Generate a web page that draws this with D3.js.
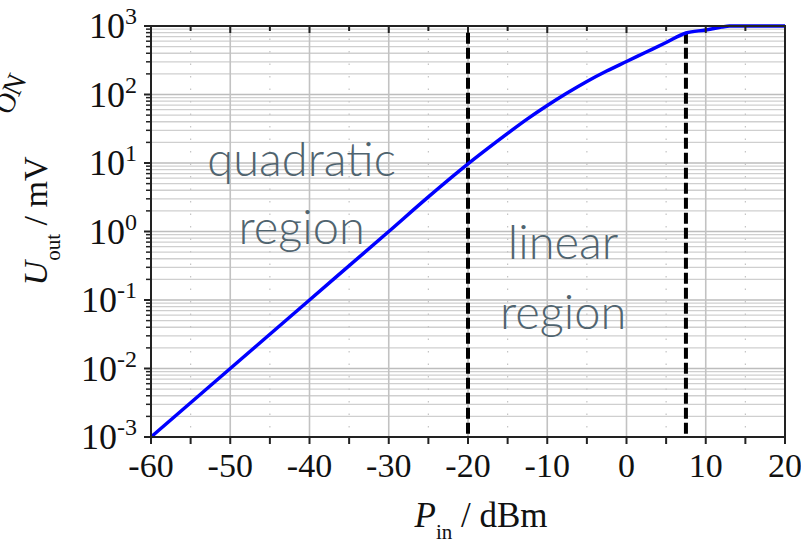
<!DOCTYPE html>
<html>
<head>
<meta charset="utf-8">
<script src="https://cdn.jsdelivr.net/npm/d3@7"></script>
<style>
  body { margin: 0; background: #fff; }
  svg { display: block; }
  .tick-label { font-family: "Liberation Serif", "Times New Roman", serif; fill: #111; }
  .region { font-family: Lato, "Open Sans", sans-serif; font-weight: 300; fill: #50646f; }
</style>
</head>
<body>
<svg width="801" height="548"></svg>
<script>
// input power in dBm and output voltage in mV
const pin = [-60, -50, -40, -30, -25, -20, -17.5, -15, -12.5, -10, -7.5, -5, -2.5, 0, 2.5, 5, 7.5, 10, 12, 13, 20];
const uout = [0.001, 0.01, 0.1, 1, 3.2, 9.7, 16.3, 27, 44, 69, 105, 155, 220, 303, 417, 574, 791, 875, 965, 1000, 1000];

const xTicks = [-60, -50, -40, -30, -20, -10, 0, 10, 20];
const xMinor = [-55, -45, -35, -25, -15, -5, 5, 15];
const yExps = [-3, -2, -1, 0, 1, 2, 3];
const regionBounds = [-20, 7.5];

const svg = d3.select('svg');
const mLeft = 151, mRight = 785, mTop = 26, mBottom = 437;

const xScale = d3.scaleLinear().domain([-60, 20]).range([mLeft, mRight]);
const yScale = d3.scaleLog().domain([1e-3, 1e3]).range([mBottom, mTop]);

// minor decade values 2..9
let yMinor = [];
yExps.slice(0, -1).forEach(e => {
  for (let k = 2; k <= 9; k++) yMinor.push(k * Math.pow(10, e));
});

const grid = svg.append('g');
grid.selectAll('.hminor').data(yMinor).enter().append('line')
  .attr('x1', mLeft).attr('x2', mRight)
  .attr('y1', d => yScale(d)).attr('y2', d => yScale(d))
  .attr('stroke', '#cfcfcf').attr('stroke-width', 1.3);
grid.selectAll('.hmajor').data(yExps).enter().append('line')
  .attr('x1', mLeft).attr('x2', mRight)
  .attr('y1', d => yScale(Math.pow(10, d))).attr('y2', d => yScale(Math.pow(10, d)))
  .attr('stroke', '#bdbdbd').attr('stroke-width', 1.6);
grid.selectAll('.vminor').data(xMinor).enter().append('line')
  .attr('y1', mTop).attr('y2', mBottom)
  .attr('x1', d => xScale(d)).attr('x2', d => xScale(d))
  .attr('stroke', '#c4c4c4').attr('stroke-width', 1.2).attr('stroke-dasharray', '1.5,11');
grid.selectAll('.vmajor').data(xTicks).enter().append('line')
  .attr('y1', mTop).attr('y2', mBottom)
  .attr('x1', d => xScale(d)).attr('x2', d => xScale(d))
  .attr('stroke', '#c2c2c2').attr('stroke-width', 1.6);

// dashed region borders
svg.selectAll('.bound').data(regionBounds).enter().append('line')
  .attr('x1', d => xScale(d)).attr('x2', d => xScale(d))
  .attr('y1', yScale(800)).attr('y2', mBottom)
  .attr('stroke', '#000').attr('stroke-width', 4).attr('stroke-dasharray', '11,4');

// curve
const line = d3.line().x((d, i) => xScale(pin[i])).y(d => yScale(d)).curve(d3.curveMonotoneX);
svg.append('path').datum(uout).attr('d', line)
  .attr('fill', 'none').attr('stroke', '#0000ff').attr('stroke-width', 3.5);

// frame and ticks
const frame = svg.append('g').attr('stroke', '#222');
frame.append('rect').attr('x', mLeft).attr('y', mTop).attr('width', mRight - mLeft).attr('height', mBottom - mTop)
  .attr('fill', 'none').attr('stroke-width', 2);
const allX = xTicks.concat(xMinor);
frame.selectAll('.bt').data(allX).enter().append('line')
  .attr('x1', d => xScale(d)).attr('x2', d => xScale(d))
  .attr('y1', mBottom).attr('y2', mBottom + 7).attr('stroke-width', 2);
frame.selectAll('.tt').data(allX).enter().append('line')
  .attr('x1', d => xScale(d)).attr('x2', d => xScale(d))
  .attr('y1', mTop).attr('y2', d => mTop + (xTicks.includes(d) ? 7 : 5)).attr('stroke-width', 2);
frame.selectAll('.lt').data(yExps).enter().append('line')
  .attr('y1', d => yScale(Math.pow(10, d))).attr('y2', d => yScale(Math.pow(10, d)))
  .attr('x1', mLeft - 7).attr('x2', mLeft).attr('stroke-width', 2);
frame.selectAll('.lmt').data(yMinor).enter().append('line')
  .attr('y1', d => yScale(d)).attr('y2', d => yScale(d))
  .attr('x1', mLeft - 5).attr('x2', mLeft).attr('stroke-width', 1.5);

// tick labels
svg.selectAll('.xl').data(xTicks).enter().append('text')
  .attr('class', 'tick-label')
  .attr('x', d => xScale(d)).attr('y', mBottom + 40)
  .attr('text-anchor', 'middle').attr('font-size', 34)
  .text(d => d);
const yl = svg.selectAll('.yl').data(yExps).enter().append('text')
  .attr('class', 'tick-label')
  .attr('x', 137).attr('y', d => yScale(Math.pow(10, d)) + 12)
  .attr('text-anchor', 'end').attr('font-size', 36);
yl.append('tspan').text('10');
yl.append('tspan').attr('font-size', 24).attr('dy', -14).text(d => d);

// axis titles
const xt = svg.append('text').attr('class', 'tick-label')
  .attr('x', 481).attr('y', 527).attr('text-anchor', 'middle').attr('font-size', 35);
xt.append('tspan').attr('font-style', 'italic').text('P');
xt.append('tspan').attr('font-size', 21).attr('dy', 12).text('in');
xt.append('tspan').attr('dy', -12).text(' / dBm');

const yt = svg.append('text').attr('class', 'tick-label')
  .attr('transform', 'translate(47,221) rotate(-90)')
  .attr('text-anchor', 'middle').attr('font-size', 34);
yt.append('tspan').attr('font-style', 'italic').text('U');
yt.append('tspan').attr('font-size', 21).attr('dy', 13).text('out');
yt.append('tspan').attr('dy', -13).text(' / mV');

// clipped fragment at the left edge
svg.append('text').attr('class', 'tick-label')
  .attr('transform', 'translate(10,116) rotate(-65)')
  .attr('font-size', 28).text('ON');

// region labels
const regions = [
  {lines: ['quadratic', 'region'], x: -41, y: [176, 244]},
  {lines: ['linear', 'region'], x: -8, y: [259, 329]}
];
regions.forEach(r => {
  r.lines.forEach((t, i) => {
    svg.append('text').attr('class', 'region')
      .attr('x', xScale(r.x)).attr('y', r.y[i])
      .attr('text-anchor', 'middle').attr('font-size', 47).text(t);
  });
});
</script>
</body>
</html>
